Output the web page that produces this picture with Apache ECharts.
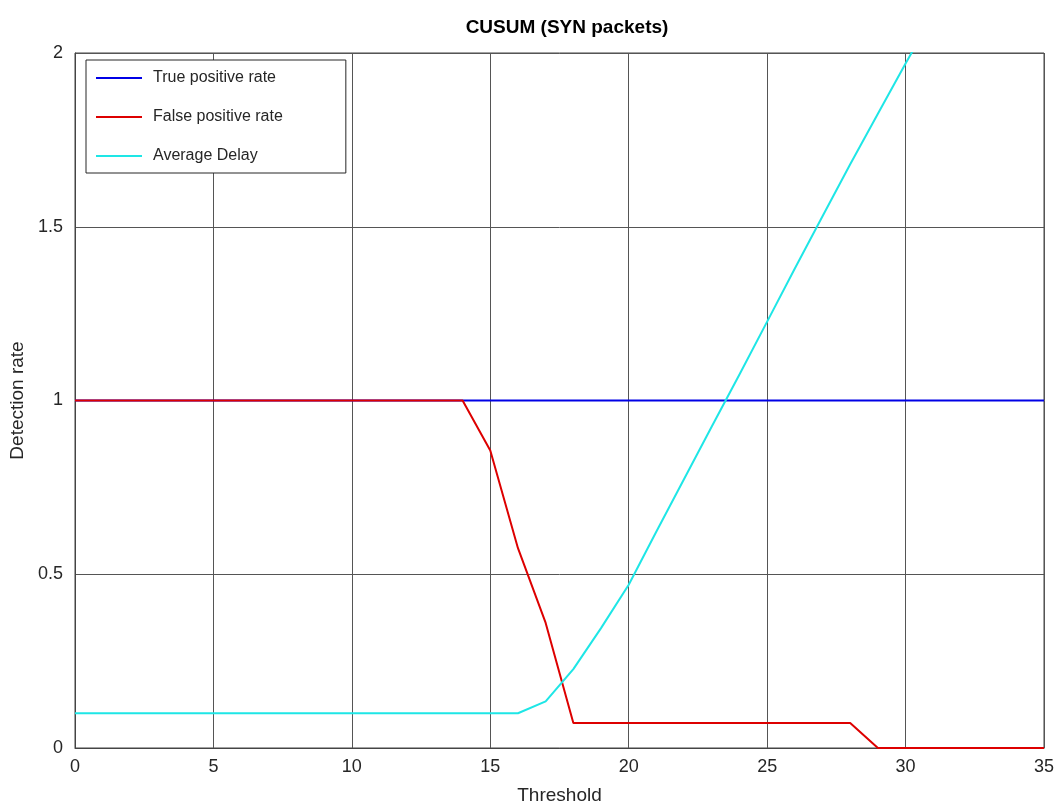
<!DOCTYPE html>
<html>
<head>
<meta charset="utf-8">
<script src="https://cdn.jsdelivr.net/npm/echarts@6/dist/echarts.min.js"></script>
<style>
  html, body { margin: 0; padding: 0; background: #ffffff; }
  #chart { width: 1057px; height: 805px; }
</style>
</head>
<body>
<div id="chart"></div>
<script>
// Threshold values (x)
const thresholds = [0,1,2,3,4,5,6,7,8,9,10,11,12,13,14,15,16,17,18,19,20,21,22,23,24,25,26,27,28,29,30,31,32,33,34,35];
const truePositiveRate = [1,1,1,1,1,1,1,1,1,1,1,1,1,1,1,1,1,1,1,1,1,1,1,1,1,1,1,1,1,1,1,1,1,1,1,1];
const falsePositiveRate = [1,1,1,1,1,1,1,1,1,1,1,1,1,1,1,0.856,0.575,0.36,0.072,0.072,0.072,0.072,0.072,0.072,0.072,0.072,0.072,0.072,0.072,0,0,0,0,0,0,0];
const delayThresholds = [0,1,2,3,4,5,6,7,8,9,10,11,12,13,14,15,16,17,18,19,20,21,22,23,24,25,26,27,28,29,30,31];
const averageDelay = [0.1,0.1,0.1,0.1,0.1,0.1,0.1,0.1,0.1,0.1,0.1,0.1,0.1,0.1,0.1,0.1,0.1,0.134,0.227,0.345,0.47,0.623,0.774,0.925,1.075,1.227,1.38,1.53,1.68,1.825,1.97,2.11];
const xTicks = [0,5,10,15,20,25,30,35];
const yTicks = [0,0.5,1,1.5,2];

const pairs = (xs, ys) => xs.map((x, i) => [x, ys[i]]);
const FONT = '"Liberation Sans", Arial, Helvetica, sans-serif';
const TXT = '#262626';

const chart = echarts.init(document.getElementById('chart'), null, { renderer: 'canvas' });
chart.setOption({
  animation: false,
  backgroundColor: '#ffffff',
  textStyle: { fontFamily: FONT },
  title: {
    text: 'CUSUM (SYN packets)',
    left: 562, top: 13, textAlign: 'center',
    textStyle: { fontFamily: FONT, fontSize: 19, fontWeight: 'bold', color: '#000' }
  },
  grid: {
    left: 75, right: 13, top: 53, bottom: 57,
    containLabel: false, outerBoundsMode: 'none',
    show: true, borderColor: '#444444', borderWidth: 1, backgroundColor: '#fff'
  },
  legend: {
    orient: 'vertical',
    left: 86, top: 60,
    padding: [10, 63, 9, 10],
    icon: 'rect',
    itemWidth: 46, itemHeight: 2, itemGap: 23,
    borderColor: '#262626', borderWidth: 1, backgroundColor: '#fff',
    textStyle: { fontFamily: FONT, fontSize: 16, lineHeight: 16, color: TXT, padding: [0, 0, 0, 6] },
    data: ['True positive rate', 'False positive rate', 'Average Delay']
  },
  xAxis: {
    type: 'value', min: xTicks[0], max: xTicks[xTicks.length - 1], interval: 5,
    name: 'Threshold', nameLocation: 'middle', nameGap: 38,
    nameTextStyle: { fontFamily: FONT, fontSize: 19, color: TXT },
    axisLine: { show: true, lineStyle: { color: '#444444', width: 1 } },
    axisTick: { show: false },
    axisLabel: { fontFamily: FONT, fontSize: 18, color: TXT, margin: 10 },
    splitLine: { show: true, lineStyle: { color: '#555555', width: 1 } }
  },
  yAxis: {
    type: 'value', min: yTicks[0], max: yTicks[yTicks.length - 1], interval: 0.5,
    name: 'Detection rate', nameLocation: 'middle', nameGap: 46,
    nameTextStyle: { fontFamily: FONT, fontSize: 19, color: TXT },
    axisLine: { show: true, lineStyle: { color: '#444444', width: 1 } },
    axisTick: { show: false },
    axisLabel: { fontFamily: FONT, fontSize: 18, color: TXT, margin: 12 },
    splitLine: { show: true, lineStyle: { color: '#555555', width: 1 } }
  },
  series: [
    {
      name: 'True positive rate', type: 'line', symbol: 'none', clip: true,
      data: pairs(thresholds, truePositiveRate),
      lineStyle: { color: '#0000e6', width: 2 }, itemStyle: { color: '#0000e6' }
    },
    {
      name: 'False positive rate', type: 'line', symbol: 'none', clip: true,
      data: pairs(thresholds, falsePositiveRate),
      lineStyle: { color: '#dd0000', width: 2 }, itemStyle: { color: '#dd0000' }
    },
    {
      name: 'Average Delay', type: 'line', symbol: 'none', clip: true,
      data: pairs(delayThresholds, averageDelay),
      lineStyle: { color: '#1ee6e6', width: 2 }, itemStyle: { color: '#1ee6e6' }
    }
  ]
});
</script>
</body>
</html>
